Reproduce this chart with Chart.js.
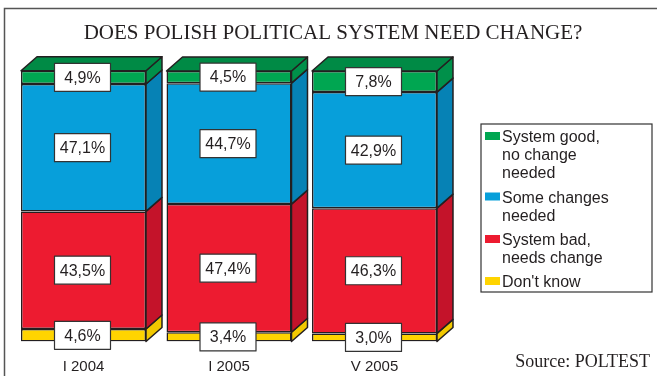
<!DOCTYPE html>
<html>
<head>
<meta charset="utf-8">
<script src="https://cdn.jsdelivr.net/npm/chart.js@4/dist/chart.umd.min.js"></script>
<style>
  html, body { margin: 0; padding: 0; background: #fff; }
  #wrap { width: 657px; height: 376px; position: relative; }
</style>
</head>
<body>
<div id="wrap"><canvas id="chart" width="657" height="376"></canvas></div>
<script>
const periods = ["I 2004", "I 2005", "V 2005"];

// stacked bottom to top
const dontKnow = [4.6, 3.4, 3.0];
const systemBad = [43.5, 47.4, 46.3];
const someChanges = [47.1, 44.7, 42.9];
const systemGood = [4.9, 4.5, 7.8];

const legendItems = [
  { lines: ["System good,", "no change", "needed"], color: "#00a651" },
  { lines: ["Some changes", "needed"], color: "#079fda" },
  { lines: ["System bad,", "needs change"], color: "#ed1b30" },
  { lines: ["Don't know"], color: "#ffd400" },
];

const INK = "#231f20";
const DX = 16, DY = 14;

// front, side and top colours for each stack level
const series = [
  { label: "Don't know", data: dontKnow, front: "#ffd400", side: "#f2c900", top: "#ffd400" },
  { label: "System bad, needs change", data: systemBad, front: "#ed1b30", side: "#c4132a", top: "#c4132a" },
  { label: "Some changes needed", data: someChanges, front: "#079fda", side: "#0682b5", top: "#0682b5" },
  { label: "System good, no change needed", data: systemGood, front: "#00a651", side: "#00904a", top: "#008a45" },
];

const fmt = (v) => v.toFixed(1).replace(".", ",") + "%";

const boxes3d = {
  id: "boxes3d",
  afterDatasetsDraw(chart) {
    const ctx = chart.ctx;
    ctx.save();
    ctx.lineWidth = 1.5;
    ctx.strokeStyle = INK;
    ctx.lineJoin = "round";
    const last = chart.data.datasets.length - 1;
    chart.data.datasets.forEach((ds, i) => {
      chart.getDatasetMeta(i).data.forEach((bar) => {
        const right = bar.x + bar.width / 2;
        const left = bar.x - bar.width / 2;
        const top = bar.y, bottom = bar.base;
        ctx.beginPath();
        ctx.moveTo(right, top);
        ctx.lineTo(right + DX, top - DY);
        ctx.lineTo(right + DX, bottom - DY);
        ctx.lineTo(right, bottom);
        ctx.closePath();
        ctx.fillStyle = series[i].side;
        ctx.fill();
        ctx.stroke();
        if (i === last) {
          ctx.beginPath();
          ctx.moveTo(left, top);
          ctx.lineTo(left + DX, top - DY);
          ctx.lineTo(right + DX, top - DY);
          ctx.lineTo(right, top);
          ctx.closePath();
          ctx.fillStyle = series[i].top;
          ctx.fill();
          ctx.stroke();
        }
      });
    });

    // value boxes
    ctx.font = "16px 'Liberation Sans', Arial, sans-serif";
    ctx.textAlign = "center";
    ctx.textBaseline = "middle";
    chart.data.datasets.forEach((ds, i) => {
      chart.getDatasetMeta(i).data.forEach((bar, j) => {
        const cx = bar.x - 1;
        const cy = (bar.y + bar.base) / 2;
        const w = 56, h = 28;
        ctx.fillStyle = "#fff";
        ctx.fillRect(cx - w / 2, cy - h / 2, w, h);
        ctx.lineWidth = 1.2;
        ctx.strokeStyle = "#333";
        ctx.strokeRect(cx - w / 2, cy - h / 2, w, h);
        ctx.fillStyle = INK;
        ctx.fillText(fmt(ds.data[j]), cx, cy + 1);
      });
    });

    // period names under the bars
    const xs = chart.scales.x;
    ctx.font = "15px 'Liberation Sans', Arial, sans-serif";
    ctx.textBaseline = "alphabetic";
    periods.forEach((p, i) => ctx.fillText(p, xs.getPixelForValue(i), 370.5));
    ctx.restore();
  },
};

const decorations = {
  id: "decorations",
  afterDraw(chart) {
    const ctx = chart.ctx;
    ctx.save();
    // outer frame
    ctx.strokeStyle = "#555";
    ctx.lineWidth = 1.5;
    ctx.beginPath();
    ctx.moveTo(4.5, 380);
    ctx.lineTo(4.5, 8.5);
    ctx.lineTo(660, 8.5);
    ctx.stroke();

    ctx.fillStyle = INK;
    ctx.textAlign = "center";
    ctx.textBaseline = "alphabetic";
    ctx.font = "21px 'Liberation Serif', 'Times New Roman', serif";
    ctx.fillText("DOES POLISH POLITICAL SYSTEM NEED CHANGE?", 333, 39);

    ctx.textAlign = "right";
    ctx.font = "18px 'Liberation Serif', 'Times New Roman', serif";
    ctx.fillText("Source: POLTEST", 650, 367);

    // legend box
    ctx.lineWidth = 1.2;
    ctx.strokeStyle = "#333";
    ctx.strokeRect(481, 124, 171, 168);
    ctx.font = "16px 'Liberation Sans', Arial, sans-serif";
    ctx.textAlign = "left";
    const firstBaselines = [142, 202.5, 245, 287];
    legendItems.forEach((item, k) => {
      const b = firstBaselines[k];
      ctx.fillStyle = item.color;
      ctx.fillRect(485, b - 10, 15, 8);
      ctx.fillStyle = INK;
      item.lines.forEach((t, n) => ctx.fillText(t, 502, b + n * 18));
    });
    ctx.restore();
  },
};

new Chart(document.getElementById("chart"), {
  type: "bar",
  data: {
    labels: periods,
    datasets: series.map((s) => ({
      label: s.label,
      data: s.data,
      backgroundColor: s.front,
      borderColor: INK,
      borderWidth: 1.5,
      borderSkipped: false,
      barPercentage: 0.859,
      categoryPercentage: 1,
    })),
  },
  options: {
    responsive: false,
    animation: false,
    events: [],
    layout: { padding: { left: 10.75, right: 209.75, top: 71, bottom: 34.5 } },
    plugins: { legend: { display: false }, tooltip: { enabled: false } },
    scales: {
      x: { stacked: true, display: false },
      y: { stacked: true, display: false, min: 0, max: 100 },
    },
  },
  plugins: [boxes3d, decorations],
});
</script>
</body>
</html>
